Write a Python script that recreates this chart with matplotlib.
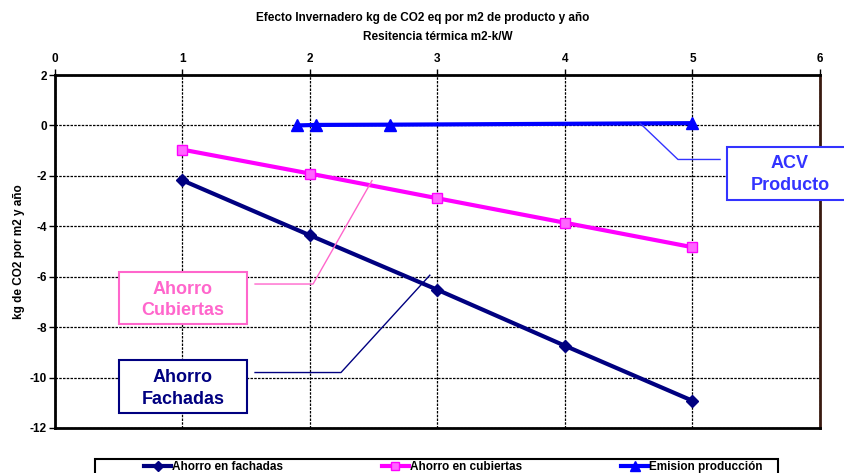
import matplotlib
matplotlib.use("Agg")
import matplotlib.pyplot as plt
from matplotlib.patches import Rectangle

plt.rcParams['font.family'] = ['Liberation Sans', 'DejaVu Sans']
plt.rcParams['axes.unicode_minus'] = False

# Data
resistencia = [1, 2, 3, 4, 5]
ahorro_fachadas = [-2.18, -4.36, -6.52, -8.74, -10.92]
ahorro_cubiertas = [-0.96, -1.91, -2.89, -3.86, -4.83]
emision_x = [1.9, 2.05, 2.63, 5.0]
emision_y = [0.0, 0.02, 0.03, 0.09]

x_ticks = [0, 1, 2, 3, 4, 5, 6]
y_ticks = [2, 0, -2, -4, -6, -8, -10, -12]

title = "Efecto Invernadero kg de CO2 eq por m2 de producto y año"
xlabel = "Resitencia térmica m2-k/W"
ylabel = "kg de CO2 por m2 y año"
series_names = ["Ahorro en fachadas", "Ahorro en cubiertas", "Emision producción"]

NAVY = "#000080"
MAGENTA = "#ff00ff"
BLUE = "#0000ff"
PINK = "#ff66cc"
ACV = "#3333ff"
FS = 8.5

W, H = 845, 473
fig = plt.figure(figsize=(W / 100, H / 100), dpi=100)
ax = fig.add_axes([55 / W, 1 - 428 / H, 765 / W, 353 / H])
ax.set_xlim(0, 6)
ax.set_ylim(-12, 2)

ax.xaxis.tick_top()
ax.xaxis.set_label_position("top")
ax.set_xticks(x_ticks)
ax.set_yticks(y_ticks)
ax.tick_params(axis='x', direction='out', length=4, width=1, labelsize=FS, pad=3.5)
ax.tick_params(axis='y', direction='out', length=4, width=1, labelsize=FS, pad=2)
for lbl in ax.get_xticklabels() + ax.get_yticklabels():
    lbl.set_fontweight('bold')
ax.grid(True, color='black', linestyle=(0, (2, 1)), linewidth=0.9)
ax.set_axisbelow(True)

for side in ['left', 'top', 'bottom']:
    ax.spines[side].set_linewidth(2)
    ax.spines[side].set_color('black')
ax.spines['right'].set_linewidth(2)
ax.spines['right'].set_color('#3a1a10')

ax.set_xlabel(xlabel, fontsize=FS, fontweight='bold', labelpad=9.3)
ax.set_ylabel(ylabel, fontsize=FS, fontweight='bold', labelpad=3)
fig.text(0.5, 1 - 18 / H, title, ha='center', va='center', fontsize=FS, fontweight='bold')

l1, = ax.plot(resistencia, ahorro_fachadas, color=NAVY, lw=3, marker='D', ms=6.5,
              mfc=NAVY, mec=NAVY, zorder=4)
l2, = ax.plot(resistencia, ahorro_cubiertas, color=MAGENTA, lw=3, marker='s', ms=7,
              mfc='#ff66ff', mec=MAGENTA, zorder=4)
l3, = ax.plot(emision_x, emision_y, color=BLUE, lw=3, marker='^', ms=9,
              mfc=BLUE, mec=BLUE, zorder=4)

# Callout connector lines
ax.plot([4.59, 4.886, 5.216], [0.08, -1.35, -1.35], color=ACV, lw=1, zorder=5, clip_on=False)
ax.plot([2.486, 2.024, 1.569], [-2.19, -6.29, -6.29], color=PINK, lw=1, zorder=5)
ax.plot([2.94, 2.243, 1.569], [-5.94, -9.8, -9.8], color=NAVY, lw=1, zorder=5)

# Callout boxes
def callout(x0, x1, y0, y1, xc, color, lines, ys):
    ax.add_patch(Rectangle((x0, y0), x1 - x0, y1 - y0, facecolor='white',
                           edgecolor=color, lw=1.5, zorder=6, clip_on=False))
    for t, yy in zip(lines, ys):
        ax.text(xc, yy, t, ha='center', va='center', color=color,
                fontsize=13, fontweight='bold', zorder=7, clip_on=False)

callout(0.502, 1.506, -7.89, -5.82, 1.004, PINK, ["Ahorro", "Cubiertas"], [-6.5, -7.35])
callout(0.502, 1.506, -11.39, -9.32, 1.004, NAVY, ["Ahorro", "Fachadas"], [-10.0, -10.85])
callout(5.27, 6.6, -2.95, -0.84, 5.765, ACV, ["ACV", "Producto"], [-1.5, -2.4])

# Legend strip at the bottom
fig.add_artist(Rectangle((95 / W, -10 / H), 683 / W, 24 / H, transform=fig.transFigure,
                         facecolor='white', edgecolor='black', lw=1.5, clip_on=False))
leg = fig.legend([l1, l2, l3], series_names, loc='center left',
                 bbox_to_anchor=(144 / W, 1 - 467 / H), ncol=3, frameon=False,
                 prop={'size': FS, 'weight': 'bold'}, handlelength=2.3,
                 handletextpad=0.1, borderpad=0, borderaxespad=0,
                 columnspacing=8.35, markerscale=0.75)

fig.savefig("out.png", dpi=100)
